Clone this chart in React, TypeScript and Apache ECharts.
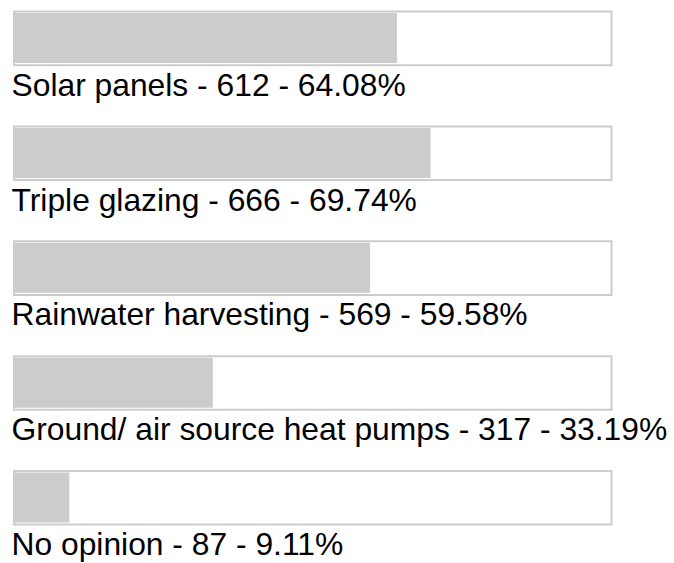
import React, { useEffect, useRef } from "react";
import * as echarts from "echarts";

const categories = [
  "Solar panels",
  "Triple glazing",
  "Rainwater harvesting",
  "Ground/ air source heat pumps",
  "No opinion",
];
const counts = [612, 666, 569, 317, 87];
const percents = [64.08, 69.74, 59.58, 33.19, 9.11];
const fullScale = categories.map(() => 100);

export default function App() {
  const ref = useRef<HTMLDivElement>(null);
  useEffect(() => {
    if (!ref.current) return;
    const chart = echarts.init(ref.current, null, { renderer: "svg" });
    const yBase = {
      type: "category" as const,
      data: categories,
      inverse: true,
      show: false,
      boundaryGap: false,
    };
    chart.setOption({
      animation: false,
      backgroundColor: "#ffffff",
      grid: [
        { left: 13, width: 599.5, top: 38.4, height: 459.4 },
        { left: 15, width: 596, top: 38.0, height: 459.6 },
      ],
      xAxis: [
        { type: "value", gridIndex: 0, min: 0, max: 100, show: false },
        { type: "value", gridIndex: 1, min: 0, max: 100, show: false },
      ],
      yAxis: [
        { ...yBase, gridIndex: 0 },
        { ...yBase, gridIndex: 1 },
      ],
      series: [
        {
          type: "bar",
          xAxisIndex: 0,
          yAxisIndex: 0,
          data: fullScale,
          barWidth: 55.6,
          silent: true,
          itemStyle: { color: "#ffffff", borderColor: "#cccccc", borderWidth: 2 },
          label: {
            show: true,
            position: [-1.5, "100%"],
            offset: [0, 2.5],
            distance: 0,
            fontFamily: "'Liberation Sans', Arial, sans-serif",
            fontSize: 31.8,
            color: "#000000",
            formatter: (p: any) =>
              `${categories[p.dataIndex]} - ${counts[p.dataIndex]} - ${percents[p.dataIndex].toFixed(2)}%`,
          },
        },
        {
          type: "bar",
          xAxisIndex: 1,
          yAxisIndex: 1,
          data: percents,
          barWidth: 50,
          silent: true,
          itemStyle: { color: "#cccccc" },
        },
      ],
    });
    return () => chart.dispose();
  }, []);
  return (
    <div
      ref={ref}
      style={{ position: "absolute", left: 0, top: 0, width: 674, height: 563 }}
    />
  );
}
